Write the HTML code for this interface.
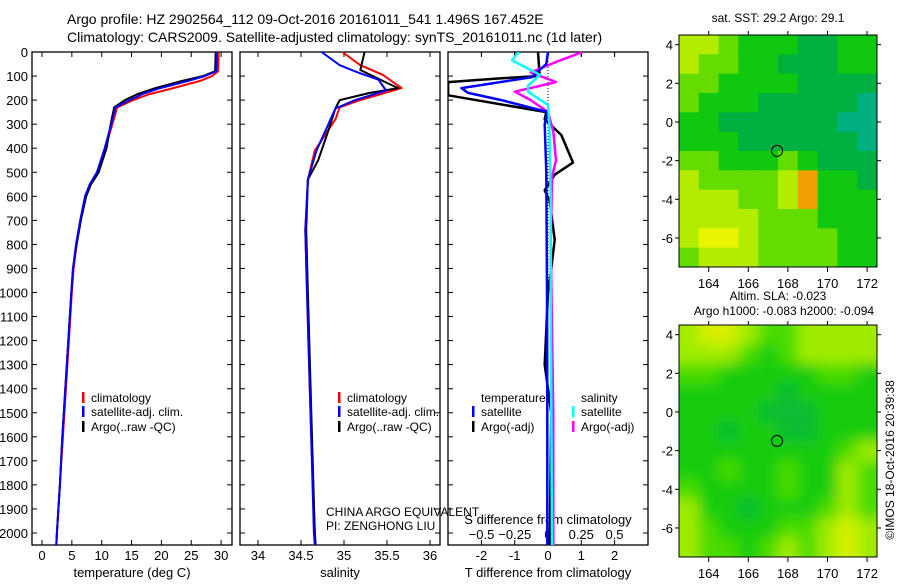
<!DOCTYPE html>
<html><head><meta charset="utf-8"><style>
body{margin:0;background:#fff}
svg{font-family:"Liberation Sans",sans-serif}
</style></head><body>
<svg id="c" width="900" height="580" xmlns="http://www.w3.org/2000/svg">
<defs>
<filter id="blur" x="0" y="0" width="1" height="1"><feGaussianBlur stdDeviation="7"/></filter>
</defs>
<text x="67" y="24" font-size="14">Argo profile: HZ 2902564_112 09-Oct-2016 20161011_541 1.496S 167.452E</text>
<text x="67" y="42" font-size="14">Climatology: CARS2009. Satellite-adjusted climatology: synTS_20161011.nc (1d later)</text>
<g id="g"></g>
</svg>
<script>
// ---- depth/profile data ----
const tDepth=[0,80,100,120,150,175,200,230,300,400,500,550,600,700,800,900,1000,1200,1400,1600,1800,2000,2050];
const tClim=[29.6,29.5,28.5,26.5,22,18,15.3,12.6,11.8,10.6,9.3,8.1,7.3,6.5,5.8,5.3,5.0,4.5,4.0,3.5,3.0,2.5,2.4];
const tSat=[29.3,29.2,27.3,24.5,19.8,16.8,14.7,12.3,11.6,10.5,9.2,8.0,7.2,6.4,5.7,5.2,4.9,4.4,3.9,3.4,3.0,2.5,2.4];
const tArgo=[29.1,29.0,27.0,23.5,19.0,16.0,13.9,12.1,11.5,10.8,9.5,8.2,7.4,6.5,5.8,5.2,4.9,4.4,3.9,3.4,3.0,2.5,2.4];
const sDepth=[0,55,95,150,200,230,280,410,530,740,1000,1500,2000,2050];
const sClim=[34.98,35.19,35.45,35.67,35.19,34.95,34.9,34.66,34.58,34.55,34.57,34.61,34.66,34.67];
const sDepthB=[0,55,85,115,160,200,235,410,530,740,1000,1500,2000,2050];
const sSat=[34.74,34.95,35.16,35.4,35.49,35.13,34.9,34.68,34.58,34.55,34.57,34.61,34.65,34.66];
const sDepthA=[0,75,125,150,170,200,235,325,450,530,740,1000,1500,2000,2050];
const sArgo=[35.24,35.19,35.48,35.63,35.3,34.95,34.9,34.82,34.7,34.58,34.56,34.58,34.62,34.66,34.67];
// difference panel
const dtDepthB=[0,50,105,150,170,200,250,300,500,1000,1500,2050];
const dtSat=[0,-0.05,-0.5,-2.6,-2.4,-1.4,0,-0.1,-0.05,-0.03,-0.02,-0.02];
const dtDepthA=[0,100,110,125,180,250,280,345,460,510,575,620,780,900,1000,1300,1400,1500,2050];
const dtArgo=[-0.3,-0.25,-1.5,-3,-3,-0.05,-0.1,0.4,0.75,0.2,-0.1,0.05,0.2,0.1,0,-0.1,0.0,0.1,0.05];
const dsDepthB=[0,35,95,140,165,220,300,600,1000,2050];
const dsSat=[-0.22,-0.27,-0.06,-0.15,-0.15,0,0.01,0.02,0.02,0.03];
const dsDepthA=[0,35,85,125,165,200,250,330,450,520,800,1500,2050];
const dsArgo=[0.26,0.09,-0.13,0.06,-0.25,-0.13,0,0.04,0.06,0.03,0.02,0.04,0.04];
// ticks
const depthTicks=[0,100,200,300,400,500,600,700,800,900,1000,1100,1200,1300,1400,1500,1600,1700,1800,1900,2000];
const tTicks=[0,5,10,15,20,25,30];
const sTicks=[34,34.5,35,35.5,36];
const dtTicks=[-2,-1,0,1,2];
const dsTicks=[-0.5,-0.25,0,0.25,0.5];
const lonTicks=[164,166,168,170,172];
const latTicks=[4,2,0,-2,-4,-6];
// map grids (rows lat 4.5 -> -7.5, cols lon 162.5 -> 172.5)
const sstGrid=[
[1,1,2,3,3,3,4,4,3,3],[1,2,2,3,3,4,4,4,3,3],[2,2,3,3,3,3,4,4,4,4],[2,3,3,3,4,4,4,4,4,5],
[3,3,4,4,4,4,4,4,5,5],[3,3,3,4,4,4,4,4,4,5],[2,2,3,3,3,2,3,4,4,4],[1,2,2,2,2,1,6,3,3,4],
[1,1,1,2,2,1,6,3,3,3],[1,1,1,1,2,2,2,3,3,3],[1,0,0,1,2,2,2,2,3,3],[2,1,1,1,2,2,2,2,3,3]];
const slaGrid=[
[1,0,0,1,2,2,1,1,1,1],[1,1,1,2,3,2,1,1,1,1],[2,2,3,3,3,3,3,2,2,3],[3,3,3,3,3,4,3,3,3,3],
[3,3,3,3,4,4,4,3,3,3],[3,3,4,3,3,4,4,3,3,3],[3,3,3,3,3,3,3,3,2,1],[3,3,2,3,3,2,3,3,1,2],
[2,3,3,3,3,2,3,3,1,2],[1,3,3,4,3,3,3,2,1,2],[1,2,3,3,3,2,2,1,0,1],[1,2,2,3,2,1,2,1,0,1]];
const argoLon=167.452, argoLat=-1.496;

const NS='http://www.w3.org/2000/svg';
const G=document.getElementById('g');
function mk(tag,attrs,parent){const e=document.createElementNS(NS,tag);for(const k in attrs)e.setAttribute(k,attrs[k]);(parent||G).appendChild(e);return e;}
function txt(x,y,s,size,anchor,parent){const e=mk('text',{x:x,y:y,'font-size':size,'text-anchor':anchor||'start'},parent);e.textContent=s;return e;}

const PT=52, PB=545;
const yD=d=>PT+d*0.2405;
function panel(x0,x1,name){
  const r=mk('rect',{x:x0,y:PT,width:x1-x0,height:PB-PT,fill:'none',stroke:'#000','stroke-width':1.3});
  
  
}
function line(xs,ds,xf,color,w,name){
  const pts=xs.map((v,i)=>xf(v).toFixed(1)+','+yD(ds[i]).toFixed(1)).join(' ');
  const p=mk('polyline',{points:pts,fill:'none',stroke:color,'stroke-width':w,'stroke-linejoin':'round'});
  
  
}
const xT=v=>42+v*5.97, xS=v=>258+(v-34)*86, xDT=v=>548+v*33.3, xDS=v=>548+v*133;
panel(32,232,'temperature-panel');panel(240,440,'salinity-panel');panel(448,648,'difference-panel');
depthTicks.forEach(d=>{
  const t=txt(28,yD(d)+5,String(d),13,'end');
  
  
  [[32,232],[240,440],[448,648]].forEach(([a,b])=>{mk('line',{x1:a,x2:a+5,y1:yD(d),y2:yD(d),stroke:'#000'});mk('line',{x1:b,x2:b-5,y1:yD(d),y2:yD(d),stroke:'#000'});});
});
function xticks(ticks,xf,y,labels){
  ticks.forEach(v=>{const x=xf(v);
    mk('line',{x1:x,x2:x,y1:PB,y2:PB-5,stroke:'#000'});mk('line',{x1:x,x2:x,y1:PT,y2:PT+5,stroke:'#000'});
    if(labels){const t=txt(x,y,String(v),13,'middle');
      
      }
  });
}
xticks(tTicks,xT,560,true);xticks(sTicks,xS,560,true);xticks(dtTicks,xDT,560,true);
dsTicks.forEach(v=>{const x=xDS(v);mk('line',{x1:x,x2:x,y1:PT,y2:PT+5,stroke:'#000'});
  const t=txt(x,539,String(v).replace('-','−'),13,'middle');
  
  });
[['temperature (deg C)',132,'temperature-axis-title'],['salinity',340,'salinity-axis-title'],['T difference from climatology',548,'t-diff-axis-title']].forEach(([s,x,n])=>{
  const t=txt(x,577,s,13,'middle');});
{const t=txt(548,524,'S difference from climatology',13,'middle');}
mk('line',{x1:xDT(0),x2:xDT(0),y1:PT,y2:PB,stroke:'#000','stroke-dasharray':'1,2'});
line(tClim,tDepth,xT,'#f00',2,'temp-climatology-line');
line(tArgo,tDepth,xT,'#000',2,'temp-argo-line');
line(tSat,tDepth,xT,'#00f',2,'temp-satellite-line');
line(sClim,sDepth,xS,'#f00',2,'sal-climatology-line');
line(sArgo,sDepthA,xS,'#000',2,'sal-argo-line');
line(sSat,sDepthB,xS,'#00f',2,'sal-satellite-line');
const cp=mk('clipPath',{id:'clipD'});mk('rect',{x:448,y:PT,width:200,height:PB-PT},cp);
const dg=mk('g',{'clip-path':'url(#clipD)'});
function dline(xs,ds,xf,color,name){const pts=xs.map((v,i)=>xf(v).toFixed(1)+','+yD(ds[i]).toFixed(1)).join(' ');
  const p=mk('polyline',{points:pts,fill:'none',stroke:color,'stroke-width':2.5,'stroke-linejoin':'round'},dg);
  
  }
dline(dtArgo,dtDepthA,xDT,'#000','t-diff-argo-line');
dline(dsArgo,dsDepthA,xDS,'#f0f','s-diff-argo-line');
dline(dtSat,dtDepthB,xDT,'#00f','t-diff-satellite-line');
dline(dsSat,dsDepthB,xDS,'#0ff','s-diff-satellite-line');
function leg(x,y,color,s,name){mk('rect',{x:x,y:y-10,width:2.5,height:11,fill:color});
  const t=txt(x+9,y,s,12);}
[[82,'temp'],[338,'sal']].forEach(([x,k])=>{
  leg(x,402,'#f00','climatology',k+'-legend-climatology');
  leg(x,416,'#00f','satellite-adj. clim.',k+'-legend-satellite');
  leg(x,431,'#000','Argo(..raw -QC)',k+'-legend-argo');});
{const t=txt(481,402,'temperature',12);
 const u=txt(581,402,'salinity',12);}
leg(472,416,'#00f','satellite','t-diff-legend-satellite');leg(472,431,'#000','Argo(-adj)','t-diff-legend-argo');
leg(572,416,'#0ff','satellite','s-diff-legend-satellite');leg(572,431,'#f0f','Argo(-adj)','s-diff-legend-argo');
{const t=txt(326,516,'CHINA ARGO EQUIVALENT',12);
 const u=txt(326,530,'PI: ZENGHONG LIU',12);}
const MX0=679,MX1=877;
const lonX=l=>MX0+(l-162.5)*19.8;
function map(y0,grid,pal,name,blur){
  const latY=l=>y0+(4.5-l)*19.33;
  const cpm=mk('clipPath',{id:'cl'+name});mk('rect',{x:MX0,y:y0,width:MX1-MX0,height:232},cpm);
  const outer=mk('g',{'clip-path':'url(#cl'+name+')'});
  const gg=mk('g',blur?{filter:'url(#blur)'}:{},outer);
  mk('rect',{x:MX0-20,y:y0-20,width:240,height:272,fill:pal[3]},gg);
  grid.forEach((row,r)=>row.forEach((v,c)=>{
    const x=lonX(162.5+c), y=latY(4.5-r);
    const e=mk('rect',{x:x-(blur&&c==0?20:0),y:y-(blur&&r==0?20:0),width:19.8+0.6+(blur&&(c==0||c==9)?20:0),height:19.33+0.6+(blur&&(r==0||r==11)?20:0),fill:pal[v]},gg);
    
    
  }));
  const fr=mk('rect',{x:MX0,y:y0,width:MX1-MX0,height:232,fill:'none',stroke:'#000'});
  
  
  lonTicks.forEach(l=>{const x=lonX(l);mk('line',{x1:x,x2:x,y1:y0+232,y2:y0+237,stroke:'#000'});mk('line',{x1:x,x2:x,y1:y0,y2:y0-4,stroke:'#000'});
    const t=txt(x,y0+253,String(l),13,'middle');});
  latTicks.forEach(l=>{const y=latY(l);mk('line',{x1:MX0,x2:MX0-4,y1:y,y2:y,stroke:'#000'});mk('line',{x1:MX1,x2:MX1+4,y1:y,y2:y,stroke:'#000'});
    const t=txt(673,y+5,String(l),13,'end');});
  const m=mk('circle',{cx:lonX(argoLon),cy:latY(argoLat),r:5.5,fill:'none',stroke:'#000'});
  
  
}
map(35,sstGrid,['#e8f400','#b4ec00','#64dc00','#10c810','#00b040','#00b080','#f0a000'],'sst-map',false);
map(325,slaGrid,['#d8f000','#a0ec00','#48dc00','#18cc10','#10bc30'],'sla-map',true);
{const t=txt(778,22,'sat. SST: 29.2  Argo: 29.1',12,'middle');
 const u=txt(778,300,'Altim. SLA: -0.023',12,'middle');
 const w=txt(784,315,'Argo h1000: -0.083 h2000: -0.094',12,'middle');
 const v=txt(0,0,'©IMOS 18-Oct-2016 20:39:38',12,'middle');v.setAttribute('transform','translate(894,460) rotate(-90)');
 }
</script>
</body></html>
